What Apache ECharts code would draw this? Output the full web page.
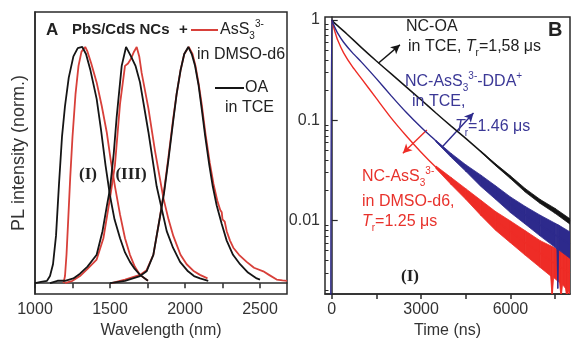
<!DOCTYPE html>
<html><head><meta charset="utf-8">
<script src="https://cdn.jsdelivr.net/npm/echarts@6/dist/echarts.min.js"></script>
<style>html,body{margin:0;padding:0;background:#fff}#c{width:572px;height:344px}</style>
</head><body><div id="c"></div>
<script>
const FONT = '"Liberation Sans", Arial, sans-serif';
const SERIF = '"Liberation Serif", "Times New Roman", serif';

// ---------- Panel A: PL spectra (wavelength nm, normalized intensity) ----------
const wlLabelValues = [1000, 1500, 2000, 2500];
const wlTickValues = [1000, 1250, 1500, 1750, 2000, 2250, 2500];
const oaI = [[1000,0],[1040,0.005],[1080,0.01],[1100,0.03],[1120,0.08],[1140,0.2],[1160,0.42],[1180,0.62],[1200,0.75],[1225,0.87],[1256,0.96],[1285,0.995],[1315,1.0],[1340,0.97],[1370,0.9],[1411,0.78],[1440,0.65],[1470,0.5],[1500,0.37],[1530,0.27],[1567,0.19],[1600,0.13],[1633,0.09],[1665,0.06],[1700,0.035],[1753,0.01]];
const assI = [[1190,0],[1200,0.03],[1210,0.12],[1220,0.25],[1235,0.45],[1250,0.62],[1270,0.8],[1290,0.92],[1310,0.98],[1335,1.0],[1350,0.98],[1375,0.93],[1411,0.85],[1445,0.75],[1478,0.64],[1505,0.52],[1533,0.41],[1567,0.29],[1600,0.19],[1633,0.12],[1665,0.07],[1700,0.035],[1753,0.01]];
const oaIII = [[1100,0],[1150,0.01],[1200,0.01],[1256,0.02],[1300,0.04],[1350,0.07],[1411,0.12],[1450,0.22],[1480,0.33],[1500,0.4],[1525,0.55],[1544,0.7],[1578,0.92],[1607,1.0],[1640,0.96],[1670,0.92],[1700,0.85],[1756,0.64],[1811,0.41],[1878,0.22],[1920,0.15],[1967,0.09],[2020,0.05],[2060,0.03],[2100,0.02],[2155,0.01]];
const assIII = [[1200,0],[1250,0.01],[1300,0.03],[1350,0.06],[1411,0.1],[1456,0.19],[1500,0.36],[1533,0.5],[1567,0.76],[1600,0.92],[1620,0.93],[1640,0.95],[1660,0.98],[1678,1.0],[1695,0.96],[1711,0.89],[1756,0.74],[1800,0.56],[1856,0.36],[1890,0.27],[1922,0.2],[1970,0.12],[2011,0.08],[2060,0.05],[2100,0.035],[2150,0.02]];
const oa2000 = [[1500,0],[1600,0.01],[1700,0.03],[1744,0.05],[1789,0.12],[1833,0.28],[1860,0.38],[1889,0.52],[1920,0.68],[1944,0.8],[1970,0.9],[1995,0.97],[2022,1.0],[2045,0.97],[2067,0.92],[2090,0.84],[2111,0.74],[2135,0.62],[2162,0.5],[2185,0.41],[2211,0.33],[2245,0.25],[2278,0.18],[2320,0.12],[2367,0.08],[2420,0.045],[2478,0.02],[2500,0.015]];
const ass2000 = [[1510,0],[1600,0.015],[1700,0.035],[1744,0.055],[1789,0.12],[1833,0.28],[1860,0.39],[1889,0.53],[1920,0.69],[1944,0.8],[1970,0.9],[1995,0.97],[2025,1.0],[2050,0.97],[2070,0.92],[2092,0.84],[2113,0.75],[2137,0.63],[2165,0.51],[2190,0.42],[2215,0.35],[2235,0.31],[2245,0.3],[2250,0.27],[2265,0.26],[2278,0.22],[2300,0.18],[2322,0.15],[2360,0.12],[2411,0.09],[2460,0.065],[2522,0.05],[2560,0.035],[2611,0.015],[2650,0.012],[2680,0.01]];

// ---------- Panel B: PL decay (time ns, log intensity) ----------
const timeLabelValues = [0, 3000, 6000];
const timeTickValues = [0, 1500, 3000, 4500, 6000, 7500];
const decayMajor = [0.01, 0.1, 1];
const decayMinor = [0.002,0.003,0.004,0.005,0.006,0.007,0.008,0.009,0.02,0.03,0.04,0.05,0.06,0.07,0.08,0.09,0.2,0.3,0.4,0.5,0.6,0.7,0.8,0.9];
const decayOA = [[0,1],[100,0.93],[250,0.85],[500,0.73],[1000,0.53],[1500,0.39],[2000,0.29],[2500,0.215],[3000,0.16],[3500,0.118],[4000,0.088],[4500,0.066],[5000,0.049],[5500,0.036],[6000,0.027],[6500,0.02],[7000,0.0155],[7500,0.0125],[8000,0.0098]];
const decayDDA = [[-30,0.0015],[0,1],[50,0.92],[100,0.85],[200,0.74],[400,0.6],[700,0.47],[1000,0.38],[1500,0.26],[2000,0.175],[2500,0.12],[3000,0.085],[3500,0.062],[4000,0.045],[4500,0.0335],[5000,0.025],[5500,0.019],[6000,0.0145],[6500,0.0114],[7000,0.009],[7500,0.0072],[8000,0.0058]];
const decayDMSO = [[0,1],[50,0.88],[100,0.78],[200,0.63],[400,0.47],[700,0.34],[1000,0.26],[1500,0.165],[2000,0.105],[2500,0.07],[3000,0.048],[3500,0.034],[4000,0.025],[4500,0.0185],[5000,0.0135],[5500,0.01],[6000,0.0078],[6500,0.006],[7000,0.0047],[7500,0.0037],[8000,0.003]];
// noise envelopes [t, low, high]
const bandOA = [[5000,0.0485,0.0495],[5500,0.0353,0.0368],[6000,0.0262,0.0279],[6500,0.0192,0.0208],[7000,0.0148,0.0162],[7500,0.0118,0.0132],[8000,0.0092,0.0104]];
const bandDDA = [[3500,0.061,0.063],[4000,0.043,0.047],[4500,0.031,0.036],[5000,0.022,0.0285],[5500,0.0163,0.0222],[6000,0.012,0.0172],[6500,0.0092,0.0138],[7000,0.007,0.0113],[7500,0.0054,0.0094],[7560,0.0052,0.0092],[7590,0.0021,0.0091],[7620,0.0051,0.009],[8000,0.0042,0.0077]];
const bandDMSO = [[3500,0.033,0.035],[4000,0.023,0.027],[4500,0.0163,0.0208],[5000,0.0113,0.016],[5500,0.008,0.0123],[6000,0.006,0.0099],[6500,0.0045,0.0079],[7000,0.0034,0.0063],[7350,0.0028,0.0056],[7400,0.0017,0.0055],[7450,0.0027,0.0054],[7650,0.0024,0.005],[7700,0.0017,0.0049],[7750,0.0023,0.0048],[7850,0.0021,0.0046],[7900,0.0016,0.0045],[7950,0.002,0.0044],[8000,0.0018,0.0043]];
// annotation arrows [from, to] in data coordinates
const arrowOA = [[1563,0.37],[2290,0.565]];
const arrowDDA = [[3731,0.055],[4760,0.118]];
const arrowDMSO = [[3195,0.08],[2390,0.047]];

const BLACK = '#151515', REDA = '#d8403a', REDB = '#ee2c26', BLUE = '#2d2a8c';
const AX = '#2a2a2a';

const chart = echarts.init(document.getElementById('c'), null, {renderer: 'canvas'});

function line(data, color, xi, yi, w, z) {
  return {type: 'line', data, xAxisIndex: xi, yAxisIndex: yi, showSymbol: false, symbol: 'none',
    lineStyle: {color, width: w}, silent: true, z: z || 2, animation: false};
}
function band(data, color, z) {
  return {type: 'custom', xAxisIndex: 1, yAxisIndex: 1, data, clip: true, silent: true, z, animation: false,
    encode: {x: 0, y: [1, 2]},
    renderItem(params, api) {
      const i = params.dataIndex;
      if (i >= data.length - 1) return null;
      const a = data[i], b = data[i + 1];
      return {type: 'polygon', shape: {points: [api.coord([a[0], a[2]]), api.coord([b[0], b[2]]), api.coord([b[0], b[1]]), api.coord([a[0], a[1]])]},
        style: {fill: color, stroke: color, lineWidth: 0.8}};
    }};
}
function arrowML(arr, color) {
  return {silent: true, symbol: ['none', 'arrow'], symbolSize: [7, 9], animation: false,
    lineStyle: {color, width: 1.4, type: 'solid'}, label: {show: false},
    data: [[{coord: arr[0]}, {coord: arr[1]}]]};
}

const rich = (size, color) => ({
  sub: {fontSize: Math.round(size * 0.6), fontFamily: FONT, fill: color, verticalAlign: 'bottom', lineHeight: 10},
  sup: {fontSize: Math.round(size * 0.6), fontFamily: FONT, fill: color, verticalAlign: 'top', lineHeight: 10},
  it: {fontSize: size, fontFamily: FONT, fontStyle: 'italic', fill: color, lineHeight: 22},
  n: {fontSize: size, fontFamily: FONT, fill: color, lineHeight: 22}
});
function txt(x, y, text, opt) {
  const o = Object.assign({size: 16, color: '#222', weight: 'normal', family: FONT, align: 'left'}, opt || {});
  return {type: 'text', x, y, silent: true, z: 50,
    style: {text, fill: o.color, fontSize: o.size, fontWeight: o.weight, fontFamily: o.family,
      align: o.align, verticalAlign: 'middle', rich: rich(o.size, o.color)}};
}
const plain = v => String(v);

const option = {
  animation: false,
  backgroundColor: '#fff',
  grid: [
    {left: 35, top: 12, width: 252, height: 283, show: true, borderColor: AX, borderWidth: 1.5},
    {left: 325, top: 17, width: 245, height: 279, show: true, borderColor: AX, borderWidth: 1.5}
  ],
  xAxis: [
    {type: 'value', gridIndex: 0, min: 1000, max: 2680,
      name: 'Wavelength (nm)', nameLocation: 'middle', nameGap: 29,
      nameTextStyle: {fontSize: 16, fontFamily: FONT, color: '#333'},
      axisLine: {lineStyle: {color: AX, width: 1.5}},
      axisTick: {show: true, inside: false, length: 5, lineStyle: {color: AX, width: 1.5}, customValues: wlTickValues},
      axisLabel: {fontSize: 16, fontFamily: FONT, color: '#333', margin: 8, customValues: wlLabelValues, formatter: plain},
      splitLine: {show: false}},
    {type: 'value', gridIndex: 1, min: -225, max: 8000,
      name: 'Time (ns)', nameLocation: 'middle', nameGap: 29,
      nameTextStyle: {fontSize: 16, fontFamily: FONT, color: '#333'},
      axisLine: {lineStyle: {color: AX, width: 1.5}},
      axisTick: {show: true, inside: false, length: 5, lineStyle: {color: AX, width: 1.5}, customValues: timeTickValues},
      axisLabel: {fontSize: 16, fontFamily: FONT, color: '#333', margin: 8, customValues: timeLabelValues, formatter: plain},
      splitLine: {show: false}}
  ],
  yAxis: [
    {type: 'value', gridIndex: 0, min: -0.046, max: 1.148,
      name: 'PL intensity (norm.)', nameLocation: 'middle', nameGap: 7, nameRotate: 90,
      nameTextStyle: {fontSize: 18, fontFamily: FONT, color: '#333'},
      axisLine: {show: true, lineStyle: {color: AX, width: 1.5}},
      axisTick: {show: false}, axisLabel: {show: false}, splitLine: {show: false}},
    {type: 'log', logBase: 10, gridIndex: 1, min: 0.00185, max: 1.071, position: 'left',
      axisLine: {show: true, lineStyle: {color: AX, width: 1.5}},
      axisTick: {show: true, inside: true, length: 6, lineStyle: {color: AX, width: 1.2}, customValues: decayMajor},
      axisLabel: {fontSize: 16, fontFamily: FONT, color: '#333', margin: 5, customValues: decayMajor,
        formatter: v => String(+Number(v).toPrecision(2))},
      splitLine: {show: false}},
    {type: 'log', logBase: 10, gridIndex: 1, min: 0.00185, max: 1.071, position: 'left',
      axisLine: {show: false},
      axisTick: {show: true, inside: true, length: 3.5, lineStyle: {color: AX, width: 1}, customValues: decayMinor},
      axisLabel: {show: false}, splitLine: {show: false}}
  ],
  series: [
    line(assI, REDA, 0, 0, 1.8, 2),
    line(assIII, REDA, 0, 0, 1.8, 2),
    line(ass2000, REDA, 0, 0, 1.8, 2),
    line(oaI, BLACK, 0, 0, 1.8, 3),
    line(oaIII, BLACK, 0, 0, 1.8, 3),
    line(oa2000, BLACK, 0, 0, 1.8, 3),
    band(bandDMSO, REDB, 4),
    Object.assign(line(decayDMSO, REDB, 1, 1, 1.4, 5), {smooth: 0.2, markLine: arrowML(arrowDMSO, REDB)}),
    band(bandOA, BLACK, 6),
    Object.assign(line(decayOA, BLACK, 1, 1, 1.5, 7), {smooth: 0.2, markLine: arrowML(arrowOA, BLACK)}),
    band(bandDDA, BLUE, 8),
    Object.assign(line(decayDDA, BLUE, 1, 1, 1.4, 9), {smooth: 0.2, markLine: arrowML(arrowDDA, BLUE)})
  ],
  graphic: [
    // panel A annotations
    txt(46, 30, 'A', {weight: 'bold', size: 17}),
    txt(72, 30, 'PbS/CdS NCs', {weight: 'bold', size: 15}),
    txt(179, 30, '+', {weight: 'bold', size: 15}),
    {type: 'line', silent: true, z: 50, shape: {x1: 191, y1: 30, x2: 218, y2: 30}, style: {stroke: REDA, lineWidth: 2}},
    txt(220, 30, '{n|AsS}{sub|3}{sup|3-}'),
    txt(197, 55, 'in DMSO-d6'),
    {type: 'line', silent: true, z: 50, shape: {x1: 215, y1: 88, x2: 244, y2: 88}, style: {stroke: BLACK, lineWidth: 2}},
    txt(245, 88, 'OA'),
    txt(225, 108, 'in TCE'),
    txt(88, 175, '(I)', {family: SERIF, weight: 'bold', size: 17, align: 'center'}),
    txt(131, 175, '(III)', {family: SERIF, weight: 'bold', size: 17, align: 'center'}),
    // panel B annotations
    txt(548, 30, 'B', {weight: 'bold', size: 20}),
    txt(406, 27, 'NC-OA'),
    txt(408, 47, '{n|in TCE, }{it|T}{sub|r}{n|=1,58 μs}'),
    txt(405, 82, '{n|NC-AsS}{sub|3}{sup|3-}{n|-DDA}{sup|+}', {color: '#3b3896'}),
    txt(412, 102, 'in TCE,', {color: '#3b3896'}),
    txt(455, 127, '{it|T}{sub|r}{n|=1.46 μs}', {color: '#3b3896'}),
    txt(362, 177, '{n|NC-AsS}{sub|3}{sup|3-}', {color: '#e8322c'}),
    txt(362, 202, 'in DMSO-d6,', {color: '#e8322c'}),
    txt(362, 222, '{it|T}{sub|r}{n|=1.25 μs}', {color: '#e8322c'}),
    txt(410, 277, '(I)', {family: SERIF, weight: 'bold', size: 17, align: 'center'})
  ]
};
chart.setOption(option);
</script></body></html>
